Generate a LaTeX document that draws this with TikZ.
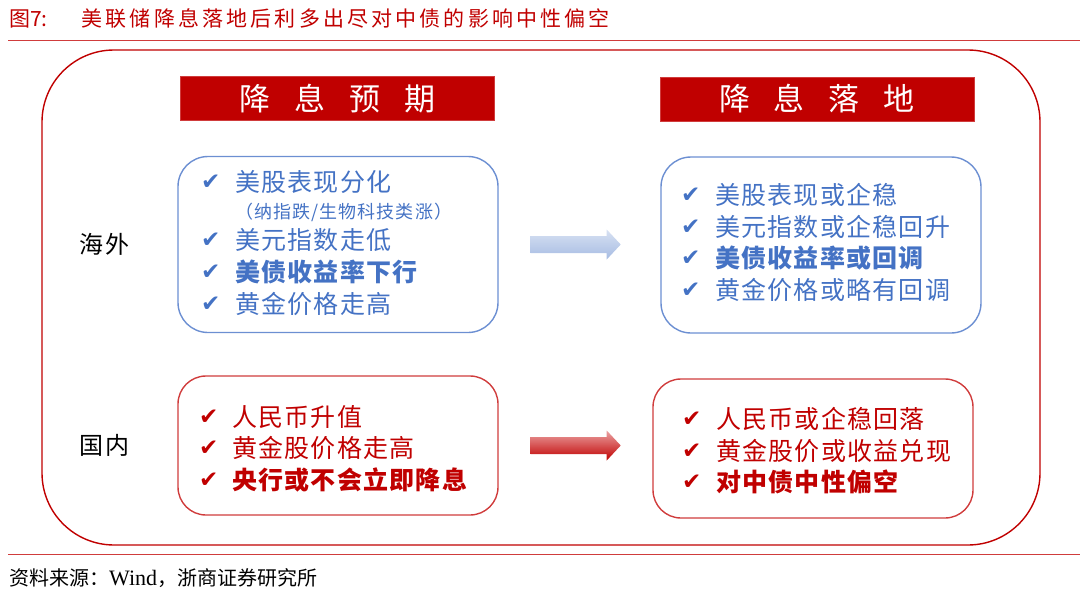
\documentclass[tikz,border=0pt]{standalone}
\usepackage{fontspec}
\setmainfont{Liberation Serif}
\newfontfamily\cjk{Noto Sans CJK SC}
\newfontfamily\cjkwide{Noto Sans CJK SC}[LetterSpace=5]
\newfontfamily\symb{DejaVu Sans}
\usetikzlibrary{positioning}

\definecolor{zsred}{HTML}{C00000}
\definecolor{linered}{HTML}{D03C3C}
\definecolor{boxblue}{HTML}{6C8FD2}
\definecolor{txtblue}{HTML}{4472C4}
\definecolor{arrbluetop}{HTML}{D8E1F2}
\definecolor{arrbluebot}{HTML}{A6BCE3}
\definecolor{arrredtop}{HTML}{EBA3A3}
\definecolor{arrredbot}{HTML}{C00000}

\begin{document}
\begin{tikzpicture}[x=1pt,y=-1pt,
hdrbox/.style={
  fill=zsred,
  draw=linered,
  line width=0.6pt,
  minimum width=314pt,
  minimum height=44pt,
  inner sep=0pt,
  text=white,
  font=\cjk\fontsize{31}{31}\selectfont},
bluebox/.style={
  draw=boxblue,
  line width=1.4pt,
  rounded corners=30pt,
  minimum width=320pt,
  minimum height=176pt},
redbox/.style={
  draw=linered,
  line width=1.4pt,
  rounded corners=28pt,
  minimum width=320pt,
  minimum height=139pt},
tick/.style={
  anchor=west,
  inner sep=0pt,
  font=\symb\fontsize{23}{23}\selectfont},
item/.style={
  anchor=west,
  inner sep=0pt,
  font=\cjkwide\fontsize{25}{25}\selectfont},
side/.style={
  inner sep=0pt,
  font=\cjk\fontsize{24}{24}\selectfont\addfontfeature{LetterSpace=8}}
]
\useasboundingbox (0,0) rectangle (1080,597);
% title and rules
\node [anchor=west, inner sep=0pt, text=zsred,
  font=\cjk\fontsize{21}{21}\selectfont] (title) at (9,18)
  {图7:\hspace{34pt}\addfontfeature{LetterSpace=15}美联储降息落地后利多出尽对中债的影响中性偏空};
\draw [linered, line width=1pt] (8,40) -- (1080,40);
\draw [linered, line width=1pt] (8,554) -- (1080,554);
\node [anchor=west, inner sep=0pt, font=\cjk\fontsize{20}{20}\selectfont] (src) at (9,578)
  {资料来源：{\rmfamily\fontsize{22}{22}\selectfont Wind}，浙商证券研究所};
% frame
\draw [zsred, line width=1.4pt, rounded corners=72pt] (42,50) rectangle (1040,545);
% headers
\node [hdrbox] (hdl) at (337.5,98.5) {降\hspace{24pt}息\hspace{24pt}预\hspace{24pt}期};
\node [hdrbox] (hdr) at (817,99) {降\hspace{24pt}息\hspace{24pt}落\hspace{24pt}地};
% boxes
\node [bluebox] (wl) at (338,244.5) {};
\node [bluebox] (wr) at (821,245) {};
\node [redbox] (nl) at (338,445.5) {};
\node [redbox] (nr) at (813,448.5) {};
\node [side, left=48pt of wl] (haiwai) {海外};
\node [side, left=48pt of nl] (guonei) {国内};
% overseas, before the cut
\foreach \y/\txt/\w in {182/美股表现分化/\mdseries, 240/美元指数走低/\mdseries,
  272/美债收益率下行/\bfseries, 304/黄金价格走高/\mdseries}
{
  \node [tick, text=txtblue] (wlt\y) at (201,\y) {✔};
  \node [item, text=txtblue] (wli\y) at (235,\y) {\w\txt};
}
\node [item, text=txtblue, font=\cjk\fontsize{18}{18}\selectfont\addfontfeature{LetterSpace=6}]
  (wlsub) at (235,212) {（纳指跌/生物科技类涨）};
% overseas, after the cut
\foreach \y/\txt/\w in {195/美股表现或企稳/\mdseries, 227/美元指数或企稳回升/\mdseries,
  258/美债收益率或回调/\bfseries, 290/黄金价格或略有回调/\mdseries}
{
  \node [tick, text=txtblue] (wrt\y) at (681,\y) {✔};
  \node [item, text=txtblue] (wri\y) at (715,\y) {\w\txt};
}
% domestic, before the cut
\foreach \y/\txt/\w in {417/人民币升值/\mdseries, 448/黄金股价格走高/\mdseries,
  480/央行或不会立即降息/\bfseries}
{
  \node [tick, text=zsred] (nlt\y) at (199,\y) {✔};
  \node [item, text=zsred] (nli\y) at (232,\y) {\w\txt};
}
% domestic, after the cut
\foreach \y/\txt/\w in {419/人民币或企稳回落/\mdseries, 451/黄金股价或收益兑现/\mdseries,
  482/对中债中性偏空/\bfseries}
{
  \node [tick, text=zsred] (nrt\y) at (682,\y) {✔};
  \node [item, text=zsred] (nri\y) at (716,\y) {\w\txt};
}
% arrows
\coordinate [right=32pt of wl] (ab);
\coordinate [right=32pt of nl] (ar);
\shade [top color=arrbluetop, bottom color=arrbluebot]
  (ab) ++(0,-8.5) -- ++(76,0) -- ++(0,-6.5) -- ++(14,15) -- ++(-14,15)
  -- ++(0,-6.5) -- ++(-76,0) -- cycle;
\shade [top color=arrredtop, bottom color=arrredbot]
  (ar) ++(0,-8.5) -- ++(76,0) -- ++(0,-6.5) -- ++(14,15) -- ++(-14,15)
  -- ++(0,-6.5) -- ++(-76,0) -- cycle;
\end{tikzpicture}
\end{document}
